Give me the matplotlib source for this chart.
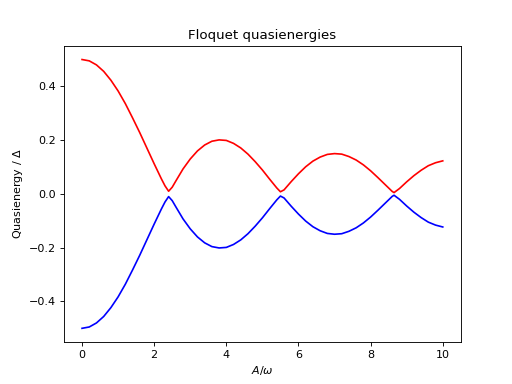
import numpy as np
import matplotlib
matplotlib.use('Agg')
import matplotlib.pyplot as plt

# drive amplitude A/omega and the two quasienergy branches
a_omega = [0.0, 0.2, 0.4, 0.6, 0.8, 1.0, 1.2, 1.4, 1.6, 1.8, 2.0, 2.2, 2.3, 2.4,
           2.5, 2.6, 2.8, 3.0, 3.2, 3.4, 3.6, 3.8, 4.0, 4.2, 4.4, 4.6, 4.8, 5.0,
           5.2, 5.4, 5.5, 5.6, 5.8, 6.0, 6.2, 6.4, 6.6, 6.8, 7.0, 7.2, 7.4, 7.6,
           7.8, 8.0, 8.2, 8.4, 8.6, 8.65, 8.8, 9.0, 9.2, 9.4, 9.6, 9.8, 10.0]
upper = [0.500, 0.495, 0.480, 0.456, 0.423, 0.383, 0.336, 0.283, 0.228, 0.170,
         0.112, 0.056, 0.030, 0.010, 0.025, 0.048, 0.093, 0.130, 0.160, 0.182,
         0.196, 0.201, 0.199, 0.188, 0.171, 0.148, 0.120, 0.089, 0.055, 0.022,
         0.008, 0.015, 0.046, 0.075, 0.101, 0.122, 0.137, 0.147, 0.150, 0.148,
         0.139, 0.126, 0.108, 0.086, 0.061, 0.035, 0.009, 0.005, 0.020, 0.045,
         0.068, 0.088, 0.105, 0.116, 0.123]
lower = [-0.500, -0.495, -0.480, -0.456, -0.423, -0.383, -0.336, -0.283, -0.228, -0.170,
         -0.112, -0.056, -0.030, -0.010, -0.025, -0.048, -0.093, -0.130, -0.160, -0.182,
         -0.196, -0.201, -0.199, -0.188, -0.171, -0.148, -0.120, -0.089, -0.055, -0.022,
         -0.008, -0.015, -0.046, -0.075, -0.101, -0.122, -0.137, -0.147, -0.150, -0.148,
         -0.139, -0.126, -0.108, -0.086, -0.061, -0.035, -0.009, -0.005, -0.020, -0.045,
         -0.068, -0.088, -0.105, -0.116, -0.123]

fig, ax = plt.subplots(figsize=(6.4, 4.8), dpi=80)
ax.plot(a_omega, upper, 'r')
ax.plot(a_omega, lower, 'b')

ax.set_xlabel(r'$A/\omega$')
ax.set_ylabel(r'Quasienergy / $\Delta$')
ax.set_title('Floquet quasienergies')

fig.savefig('out.png', dpi=80)
